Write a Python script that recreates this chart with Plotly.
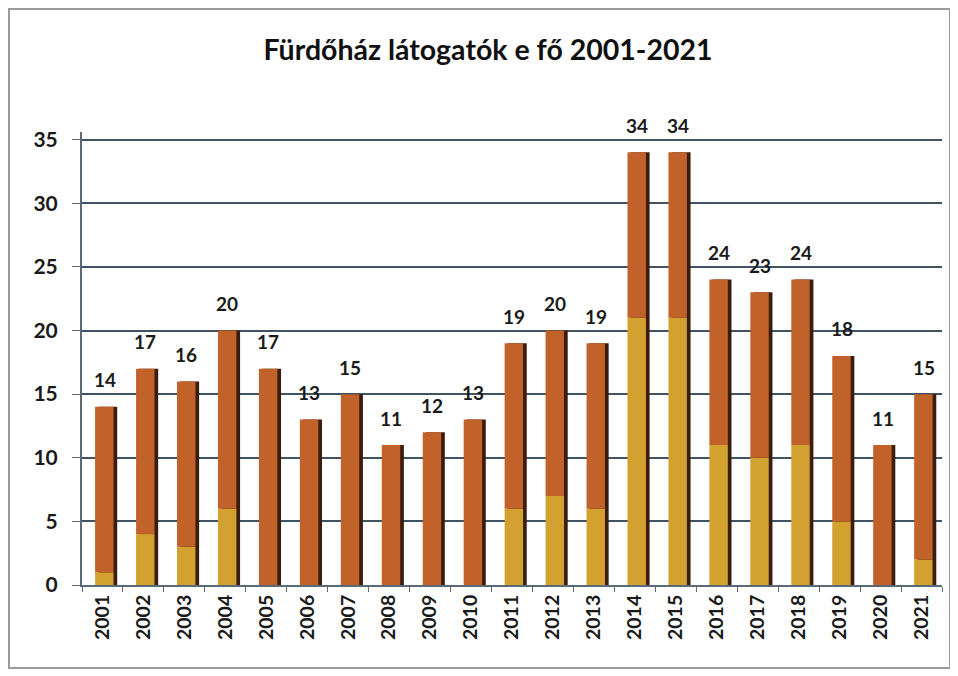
import plotly.graph_objects as go

years = [str(y) for y in range(2001, 2022)]
visitors = [14, 17, 16, 20, 17, 13, 15, 11, 12, 13, 19, 20, 19, 34, 34, 24, 23, 24, 18, 11, 15]
# lighter (yellow) lower portion of each bar's gradient
lower_part = [1, 4, 3, 6, 0, 0, 0, 0, 0, 0, 6, 7, 6, 21, 21, 11, 10, 11, 5, 0, 2]
upper_part = [v - l for v, l in zip(visitors, lower_part)]
y_ticks = [0, 5, 10, 15, 20, 25, 30, 35]
title = "Fürdőház látogatók e fő 2001-2021"

FONT = "Lato"
L, R, T, B = 74, 24, 124, 99
PW, PH = 958 - L - R, 676 - T - B

fig = go.Figure()

# dark side (depth) of each column
fig.add_trace(go.Bar(x=years, y=visitors, width=0.46, offset=-0.1,
                     marker=dict(color="#3a1d0c", line=dict(width=0)),
                     hoverinfo="skip", showlegend=False))
# lower yellow part
fig.add_trace(go.Bar(x=years, y=lower_part, width=0.45, offset=-0.18,
                     marker=dict(color="#D3A12F", line=dict(width=0)),
                     showlegend=False))
# upper orange part
fig.add_trace(go.Bar(x=years, y=upper_part, base=lower_part, width=0.45, offset=-0.18,
                     marker=dict(color="#C2622B", line=dict(width=0)),
                     showlegend=False))

# data labels (category index used as x position)
annotations = [dict(x=i + 0.05, y=v, xref="x", yref="y", text=str(v), showarrow=False,
                    yanchor="middle", yshift=27,
                    font=dict(family=FONT, size=19, color="#1a1a1a", weight="bold"))
               for i, v in enumerate(visitors)]

fig.update_layout(
    width=958, height=676,
    barmode="overlay",
    paper_bgcolor="white", plot_bgcolor="white",
    margin=dict(l=L, r=R, t=T, b=B),
    title=dict(text=title, x=480 / 958, xanchor="center", y=1 - 42 / 676, yanchor="middle",
               font=dict(family=FONT, size=28.5, color="#111111", weight="bold")),
    xaxis=dict(type="category", tickangle=-90, showgrid=False, ticks="outside", tickson="boundaries",
               ticklen=5, tickcolor="#5a6a78", showline=True, linecolor="#5a6a78", linewidth=2,
               tickfont=dict(family=FONT, size=19.5, color="#1a1a1a", weight="bold"),
               range=[-0.5, 20.5]),
    yaxis=dict(range=[0, 35.6], tickvals=y_ticks, showgrid=True, gridcolor="#3f5363",
               gridwidth=1.6, showline=True, linecolor="#5a6a78", linewidth=2,
               ticks="outside", ticklen=8, tickcolor="#5a6a78", zeroline=False,
               ticklabelstandoff=10,
               tickfont=dict(family=FONT, size=21, color="#1a1a1a", weight="bold")),
    annotations=annotations,
    shapes=[dict(type="rect", xref="paper", yref="paper",
                 x0=(1 - L) / PW, x1=(942 - L) / PW,
                 y0=(676 - B - 660) / PH, y1=(676 - B - 1) / PH,
                 line=dict(color="#9a9a9a", width=2), fillcolor="rgba(0,0,0,0)", layer="below")],
)

fig.write_html("out.html")
